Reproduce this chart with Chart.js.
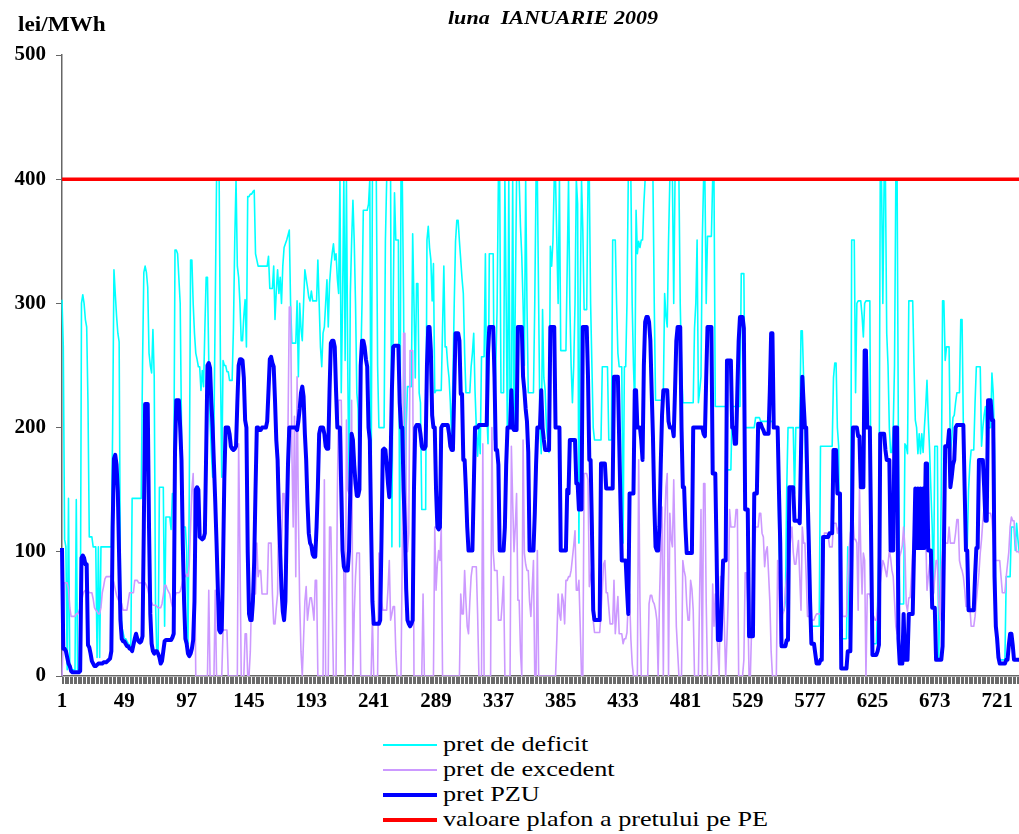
<!DOCTYPE html>
<html>
<head>
<meta charset="utf-8">
<script src="https://cdn.jsdelivr.net/npm/chart.js@4"></script>
<style>
  html, body { margin: 0; padding: 0; background: #fff; overflow: hidden; }
  #wrap { position: relative; width: 1040px; height: 834px; }
  #chart { position: absolute; left: 0; top: 0; }
  .txt { position: absolute; font-family: "Liberation Serif", "Times New Roman", serif; color: #000; white-space: nowrap; transform-origin: 0 0; }
  #title { left: 448px; top: 7px; font-size: 19px; font-weight: bold; font-style: italic; transform: scaleX(1.16); }
  #unit { left: 18px; top: 13px; font-size: 20px; font-weight: bold; transform: scaleX(1.16); }
  #legend { position: absolute; left: 383px; top: 732px; }
  .item { position: relative; height: 25px; width: 400px; }
  .item .line { position: absolute; left: 0; width: 54px; }
  .item .lbl { position: absolute; left: 60px; top: -1px; line-height: 25px; font-family: "Liberation Serif", "Times New Roman", serif; font-size: 22px; white-space: nowrap; transform: scaleX(1.19); transform-origin: 0 0; }
</style>
</head>
<body>
<div id="wrap">
  <canvas id="chart" width="1040" height="720"></canvas>
  <div id="unit" class="txt">lei/MWh</div>
  <div id="title" class="txt">luna&nbsp; IANUARIE 2009</div>
  <div id="legend"></div>
</div>
<script>
// hourly categories for January 2009 (31 days x 24 h)
const hours = Array.from({length: 744}, (_, i) => i + 1);
const axisLabels = [1, 49, 97, 145, 193, 241, 289, 337, 385, 433, 481, 529, 577, 625, 673, 721];
const plafon = 400;

// pret de deficit, one row per day
const pretDeficit = [
  303,265,110,104,5,143,5,5,5,5,5,142,5,5,5,300,307,300,287,281,220,112,112,112,
  104,104,104,15,104,15,104,104,104,104,104,104,104,104,104,200,327,308,290,276,269,70,40,35,
  30,30,28,26,25,24,143,143,143,143,143,143,143,143,250,325,330,325,313,260,250,244,279,241,
  59,18,18,152,152,152,152,40,128,128,128,128,118,147,147,343,343,340,320,300,200,120,120,120,
  100,26,147,335,335,300,276,260,255,249,249,230,246,233,280,321,321,254,206,180,160,200,300,400,
  400,400,250,160,254,250,250,245,245,238,238,238,280,350,400,330,321,300,270,270,290,303,265,386,
  386,388,388,390,391,340,335,330,330,330,330,330,330,330,330,338,312,312,312,330,287,310,327,308,
  321,300,330,345,348,351,355,359,300,268,268,268,268,302,241,300,280,270,300,327,320,313,305,302,
  310,302,302,302,302,335,300,265,249,276,281,300,319,281,316,330,340,348,335,340,320,308,400,228,
  300,400,254,400,250,147,308,350,383,350,300,228,215,147,250,300,375,375,375,375,380,400,147,400,
  400,400,400,250,200,200,200,200,200,350,400,400,400,400,104,300,389,351,351,351,104,400,400,300,
  120,200,233,233,233,233,356,300,240,316,316,228,220,134,134,134,134,351,362,345,335,302,332,228,
  230,230,230,230,230,280,330,265,265,250,240,220,190,240,300,350,367,367,350,335,320,308,260,228,
  228,228,228,249,260,276,230,200,177,200,179,257,257,257,340,214,187,340,340,340,340,190,250,295,
  400,400,228,228,228,400,300,185,400,211,211,400,200,300,400,400,400,362,338,300,250,400,300,228,
  228,228,228,228,300,400,400,300,200,179,295,240,230,200,190,180,346,330,350,400,400,350,300,400,
  262,262,262,262,262,330,400,300,250,220,250,300,400,380,107,300,400,359,295,295,295,400,400,300,
  250,200,190,190,190,190,190,190,249,249,249,249,249,190,190,190,351,351,351,300,260,249,249,249,
  107,249,249,300,400,400,400,300,250,216,375,340,350,345,351,351,380,400,400,400,400,400,400,400,
  300,222,222,222,222,222,222,228,308,290,281,350,400,400,400,300,400,400,400,400,300,250,220,220,
  220,220,220,220,220,220,220,280,300,351,220,230,241,351,400,400,300,354,354,354,354,400,400,217,
  217,217,217,217,217,217,217,217,166,166,166,166,217,217,217,217,217,217,217,324,324,324,200,200,
  200,200,200,200,200,200,208,208,208,208,205,205,205,205,205,205,205,205,205,205,200,200,200,200,
  107,80,53,53,53,60,150,200,200,200,200,200,147,200,200,200,200,278,278,240,200,150,120,107,
  60,40,40,40,40,40,40,40,185,185,185,185,185,185,185,185,185,185,240,252,252,200,185,30,
  30,30,30,30,30,104,30,30,351,351,351,228,300,302,302,302,290,273,300,302,302,302,302,104,
  26,26,26,26,60,101,400,400,300,400,400,276,250,200,180,180,200,250,400,400,187,58,58,58,
  58,187,185,179,302,302,302,302,250,206,200,179,195,179,195,180,200,217,238,206,182,150,120,67,
  185,185,185,13,67,150,302,302,254,265,265,265,179,190,208,210,220,228,228,228,287,287,200,150,
  111,104,150,170,182,182,182,220,249,249,249,249,185,200,210,217,193,200,200,200,244,228,182,40,
  20,13,13,13,13,13,13,80,80,80,80,120,120,120,101,123,110,100,100,100,100,100,100,100
];

// pret de excedent
const pretExcedent = [
  0,30,75,75,75,70,55,48,48,48,48,50,50,52,55,60,65,68,69,69,69,67,67,67,
  62,55,53,52,50,50,55,67,72,78,80,80,80,80,81,78,75,70,65,62,60,60,58,53,
  53,53,53,60,67,67,67,67,77,77,77,75,75,75,75,75,75,73,70,65,62,59,57,57,
  57,56,55,55,55,58,65,73,73,70,68,66,60,56,60,64,67,67,67,68,72,77,80,80,
  82,80,90,120,150,163,110,0,0,0,0,0,0,0,0,0,0,69,0,0,0,0,69,0,
  0,0,0,0,37,37,37,37,0,0,0,0,0,0,0,0,187,100,0,0,0,34,34,0,
  0,20,66,66,66,66,107,80,85,85,66,66,66,66,66,107,107,107,66,42,42,55,66,168,
  120,100,147,147,120,107,200,297,297,180,120,209,80,241,132,60,20,0,30,60,72,45,55,63,
  63,55,45,77,77,0,0,0,0,0,158,0,0,0,120,120,60,0,0,0,147,222,222,222,
  150,80,0,206,150,147,147,222,0,50,80,99,99,99,0,0,0,0,0,0,0,0,0,46,
  0,0,0,0,99,80,60,53,53,53,53,70,93,45,50,56,56,20,0,0,0,0,100,276,
  276,150,100,115,262,262,262,0,0,0,0,0,0,0,66,0,0,0,0,0,0,0,0,120,
  69,90,101,93,120,0,0,0,0,0,0,0,0,0,0,0,0,0,0,66,50,50,85,60,
  40,34,60,80,88,88,88,88,50,0,0,0,187,0,0,0,0,0,0,200,100,85,85,85,
  45,45,45,60,80,0,0,0,0,0,185,140,100,120,147,61,61,20,0,190,99,90,85,85,
  60,48,70,93,0,0,101,0,0,0,0,0,0,0,0,0,0,0,0,0,0,30,66,50,
  45,66,60,42,77,77,80,80,85,95,105,117,69,69,77,40,0,0,163,163,163,158,72,80,
  88,45,35,35,35,35,35,50,70,90,93,67,67,55,42,42,42,77,34,50,64,34,34,34,
  26,30,30,35,60,66,30,10,0,0,0,0,174,60,0,0,0,0,0,0,58,65,65,60,
  58,53,45,0,60,100,136,0,120,152,163,0,131,110,104,158,100,40,20,0,0,0,93,85,
  80,58,45,45,77,70,53,0,0,0,0,70,134,0,155,155,60,0,0,0,0,74,40,66,
  40,20,0,80,80,80,40,0,30,63,134,120,120,120,120,134,134,0,0,0,0,13,83,83,
  60,0,0,40,80,100,120,120,120,131,131,115,112,88,100,104,83,60,20,0,0,0,0,93,
  70,26,40,50,53,70,80,90,100,110,120,100,90,90,100,109,80,53,120,107,107,80,48,48,
  48,45,45,45,48,50,50,50,50,60,69,115,115,115,112,104,104,104,123,123,123,115,120,120,
  115,48,48,48,48,80,100,115,120,128,110,110,107,53,152,100,66,99,93,0,66,66,66,60,
  50,48,45,45,55,66,75,85,93,90,85,80,90,101,95,85,80,60,40,34,60,96,100,105,
  120,103,58,52,63,63,80,100,115,123,122,122,122,120,118,118,118,117,69,80,90,93,80,66,
  80,93,93,60,45,85,100,105,107,107,107,120,107,107,107,107,115,126,126,93,88,85,80,70,
  56,56,56,56,40,40,40,48,60,72,83,99,110,125,136,136,136,131,131,131,126,110,93,93,
  93,93,93,80,67,67,67,80,90,100,120,128,125,125,110,100,100,100,95,95,95,95,95,95
];

// pret PZU
const pretPZU = [
  103,22,22,20,15,10,8,4,3,3,3,3,3,3,4,95,97,95,90,90,25,23,18,12,
  10,8,8,9,10,10,10,10,11,11,11,12,13,14,20,120,175,178,170,148,95,45,30,28,
  28,26,24,24,22,22,20,25,30,34,30,28,27,28,32,120,219,219,219,120,50,26,20,18,
  20,20,18,15,10,12,20,28,29,29,29,29,29,31,34,180,222,222,222,200,174,107,60,30,
  26,18,16,18,22,29,60,150,152,150,112,111,110,111,115,180,250,252,248,220,200,170,140,107,
  70,37,35,37,90,160,200,200,200,195,185,183,182,183,185,220,250,255,255,254,240,206,200,100,
  50,45,45,60,93,150,200,200,198,198,200,200,200,200,205,230,255,257,252,249,222,190,174,130,
  100,70,52,45,60,120,170,200,200,200,200,200,200,198,205,215,228,233,225,195,174,140,115,107,
  105,98,96,96,120,152,195,200,200,200,195,185,183,183,230,268,270,270,265,230,200,200,200,150,
  101,88,85,85,85,101,150,195,190,170,155,145,145,150,250,270,270,265,255,249,200,190,120,60,
  42,42,42,42,42,45,110,182,183,182,170,155,144,174,230,265,266,266,266,266,220,200,200,150,
  120,70,45,42,40,42,45,150,200,202,202,202,195,185,183,183,185,250,281,281,262,210,200,200,
  150,120,118,120,200,202,202,202,202,202,195,185,182,182,230,276,276,276,270,227,227,174,174,150,
  120,101,101,101,101,150,200,200,200,202,202,202,202,202,202,202,260,281,281,281,281,241,182,182,
  170,101,101,101,101,120,170,200,200,200,230,200,198,198,198,281,281,281,281,241,230,215,205,180,
  101,101,101,101,130,170,200,200,200,230,200,190,182,182,182,182,281,281,281,281,200,200,200,200,
  101,101,101,101,101,150,147,190,190,190,190,190,155,155,134,134,134,281,281,281,281,241,174,174,
  120,53,45,45,45,45,45,171,171,171,171,151,151,151,151,151,151,241,241,241,241,190,140,93,
  93,93,93,70,50,147,147,147,147,230,230,200,200,200,190,174,250,285,289,289,285,270,230,193,
  140,104,101,101,120,170,210,230,230,230,230,205,200,200,200,193,230,270,281,281,281,200,152,152,
  120,99,99,99,99,99,200,200,200,200,200,200,200,200,195,193,240,281,281,281,281,163,163,163,
  100,29,29,29,60,93,93,93,254,254,254,254,200,200,187,187,230,270,289,289,289,280,134,134,
  134,32,32,32,32,147,147,147,203,203,203,200,198,195,195,195,195,230,276,276,200,200,200,200,
  150,107,24,24,24,24,29,29,152,152,152,152,125,125,125,125,123,180,241,220,200,200,150,107,
  60,26,26,26,18,10,10,10,13,13,112,112,112,112,112,115,115,115,182,182,182,147,147,147,
  6,6,6,6,6,20,20,20,100,200,200,200,200,193,193,152,152,152,262,262,200,200,200,110,
  17,17,17,17,20,25,195,195,195,195,182,174,174,174,101,101,101,200,200,200,30,10,10,10,
  50,13,13,13,50,50,50,50,100,151,103,151,103,151,103,151,103,171,171,101,101,101,55,55,
  55,13,13,13,13,13,24,100,185,185,185,198,152,160,170,174,200,202,202,202,202,202,202,150,
  101,101,53,53,53,53,53,80,103,103,174,174,174,174,152,125,125,222,222,222,206,206,80,40,
  30,15,10,10,10,10,10,13,13,25,34,34,25,13,13,13,13,13,13,14,15,20,30,40
];

const series = [
  { label: 'pret de deficit', data: pretDeficit, borderColor: '#00FFFF', borderWidth: 1.6, order: 3 },
  { label: 'pret de excedent', data: pretExcedent, borderColor: '#CC99FF', borderWidth: 1.6, order: 2 },
  { label: 'pret PZU', data: pretPZU, borderColor: '#0000FF', borderWidth: 4, order: 1 },
  { label: 'valoare plafon a pretului pe PE', data: hours.map(() => plafon), borderColor: '#FF0000', borderWidth: 3.5, order: 0 }
];

const serif = '"Liberation Serif", "Times New Roman", serif';

// one small tick mark per hour under the x axis
const hourTicks = {
  id: 'hourTicks',
  afterDraw(chart) {
    const xs = chart.scales.x;
    const ctx = chart.ctx;
    const y0 = xs.top + 1;
    ctx.save();
    ctx.strokeStyle = '#6a6a6a';
    ctx.lineWidth = 1;
    ctx.beginPath();
    for (let i = 0; i < hours.length; i++) {
      const px = Math.round(xs.getPixelForValue(i)) + 0.5;
      ctx.moveTo(px, y0);
      ctx.lineTo(px, y0 + 7);
    }
    ctx.stroke();
    ctx.restore();
  }
};

new Chart(document.getElementById('chart'), {
  type: 'line',
  data: {
    labels: hours,
    datasets: series.map(s => Object.assign({
      fill: false,
      pointRadius: 0,
      pointHoverRadius: 0,
      tension: 0,
      borderJoinStyle: 'round'
    }, s))
  },
  options: {
    responsive: false,
    animation: false,
    events: [],
    layout: { padding: { top: 55, right: 13, left: 0, bottom: 0 } },
    plugins: {
      legend: { display: false },
      title: { display: false },
      tooltip: { enabled: false }
    },
    scales: {
      x: {
        type: 'category',
        offset: false,
        afterFit: function(scale) { scale.height = 44; },
        grid: { display: true, drawOnChartArea: false, drawTicks: false },
        border: { display: true, color: '#666', width: 1.5 },
        ticks: {
          autoSkip: false,
          maxRotation: 0,
          minRotation: 0,
          padding: 13,
          color: '#000',
          font: { family: serif, size: 21, weight: 'bold' },
          callback: function(value, index) {
            const h = hours[index];
            return axisLabels.includes(h) ? String(h) : '';
          }
        }
      },
      y: {
        min: 0,
        max: 500,
        afterFit: function(scale) { scale.width = 62; },
        grid: { drawOnChartArea: false, drawTicks: true, tickLength: 6, color: '#666' },
        border: { display: true, color: '#666', width: 1.5 },
        ticks: {
          stepSize: 100,
          padding: 10,
          color: '#000',
          font: { family: serif, size: 21, weight: 'bold' }
        }
      }
    }
  },
  plugins: [hourTicks]
});

// legend as a vertical list, like the original
const legendBox = document.getElementById('legend');
series.forEach(s => {
  const item = document.createElement('div');
  item.className = 'item';
  const line = document.createElement('span');
  line.className = 'line';
  const w = s.borderWidth >= 3 ? 4 : 2;
  line.style.height = w + 'px';
  line.style.top = (12.5 - w / 2) + 'px';
  line.style.background = s.borderColor;
  const lbl = document.createElement('span');
  lbl.className = 'lbl';
  lbl.textContent = s.label;
  item.appendChild(line);
  item.appendChild(lbl);
  legendBox.appendChild(item);
});
</script>
</body>
</html>
